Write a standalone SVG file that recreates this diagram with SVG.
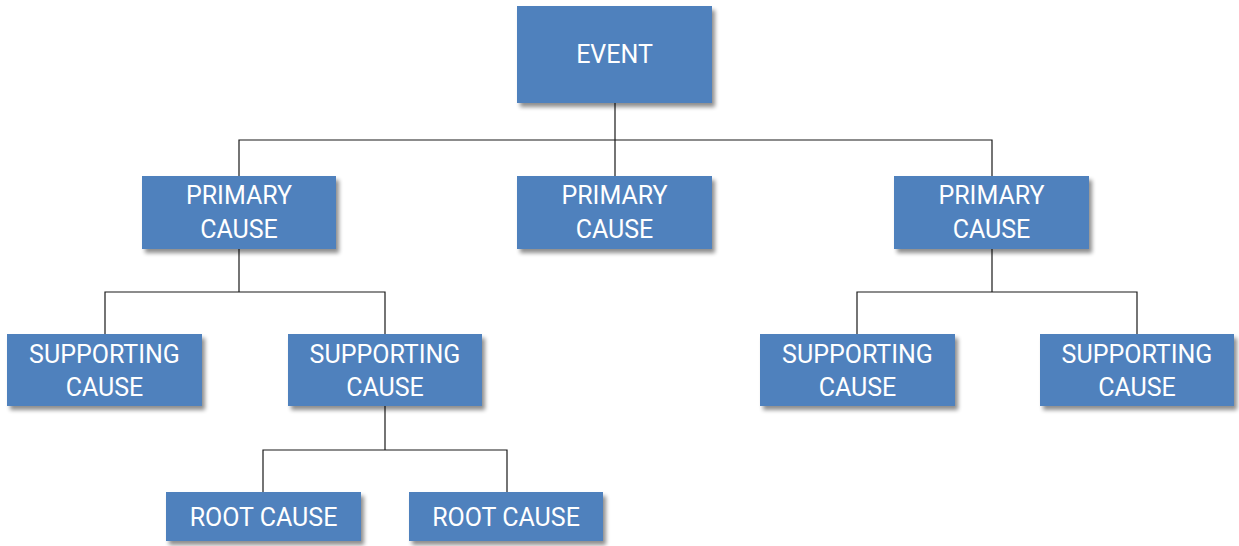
<svg xmlns="http://www.w3.org/2000/svg" width="1239" height="546" viewBox="0 0 1239 546">
  <defs>
    <filter id="shadow" x="-10%" y="-10%" width="130%" height="140%">
      <feGaussianBlur in="SourceAlpha" stdDeviation="2"/>
      <feOffset dx="3" dy="4" result="off"/>
      <feComponentTransfer><feFuncA type="linear" slope="0.45"/></feComponentTransfer>
      <feMerge><feMergeNode/><feMergeNode in="SourceGraphic"/></feMerge>
    </filter>
  </defs>
  <style>
    .box { fill: #4F81BD; filter: url(#shadow); }
    .lbl { fill: #ffffff; font-family: Roboto, "Liberation Sans", sans-serif; font-size: 25px; text-anchor: middle; }
    .wire { fill: none; stroke: #1a1a1a; stroke-width: 1.2; }
  </style>
  <rect width="1239" height="546" fill="#ffffff"/>

  <!-- tree connectors -->
  <g id="connectors" class="wire">
    <path d="M615,103 V140 M239,176 V140 H992 V176 M615,140 V176"/>
    <path d="M239,249 V292 M105,334 V292 H385 V334"/>
    <path d="M992,249 V292 M857,334 V292 H1137 V334"/>
    <path d="M385,406 V450 M263,492 V450 H507 V492"/>
  </g>

  <g id="event">
    <rect class="box" x="517" y="6" width="195" height="97"/>
    <text class="lbl" x="614.5" y="63">EVENT</text>
  </g>

  <g id="primary-left">
    <rect class="box" x="142" y="176" width="194" height="73"/>
    <text class="lbl" x="239" y="204">PRIMARY</text>
    <text class="lbl" x="239" y="238">CAUSE</text>
  </g>
  <g id="primary-mid">
    <rect class="box" x="517" y="176" width="195" height="73"/>
    <text class="lbl" x="614.5" y="204">PRIMARY</text>
    <text class="lbl" x="614.5" y="238">CAUSE</text>
  </g>
  <g id="primary-right">
    <rect class="box" x="894" y="176" width="195" height="73"/>
    <text class="lbl" x="991.5" y="204">PRIMARY</text>
    <text class="lbl" x="991.5" y="238">CAUSE</text>
  </g>

  <g id="supporting-1">
    <rect class="box" x="7" y="334" width="195" height="72"/>
    <text class="lbl" x="104.5" y="363">SUPPORTING</text>
    <text class="lbl" x="104.5" y="396">CAUSE</text>
  </g>
  <g id="supporting-2">
    <rect class="box" x="288" y="334" width="194" height="72"/>
    <text class="lbl" x="385" y="363">SUPPORTING</text>
    <text class="lbl" x="385" y="396">CAUSE</text>
  </g>
  <g id="supporting-3">
    <rect class="box" x="760" y="334" width="195" height="72"/>
    <text class="lbl" x="857.5" y="363">SUPPORTING</text>
    <text class="lbl" x="857.5" y="396">CAUSE</text>
  </g>
  <g id="supporting-4">
    <rect class="box" x="1040" y="334" width="194" height="72"/>
    <text class="lbl" x="1137" y="363">SUPPORTING</text>
    <text class="lbl" x="1137" y="396">CAUSE</text>
  </g>

  <g id="root-1">
    <rect class="box" x="166" y="492" width="195" height="49"/>
    <text class="lbl" x="263.5" y="526">ROOT CAUSE</text>
  </g>
  <g id="root-2">
    <rect class="box" x="409" y="492" width="194" height="49"/>
    <text class="lbl" x="506" y="526">ROOT CAUSE</text>
  </g>
</svg>
